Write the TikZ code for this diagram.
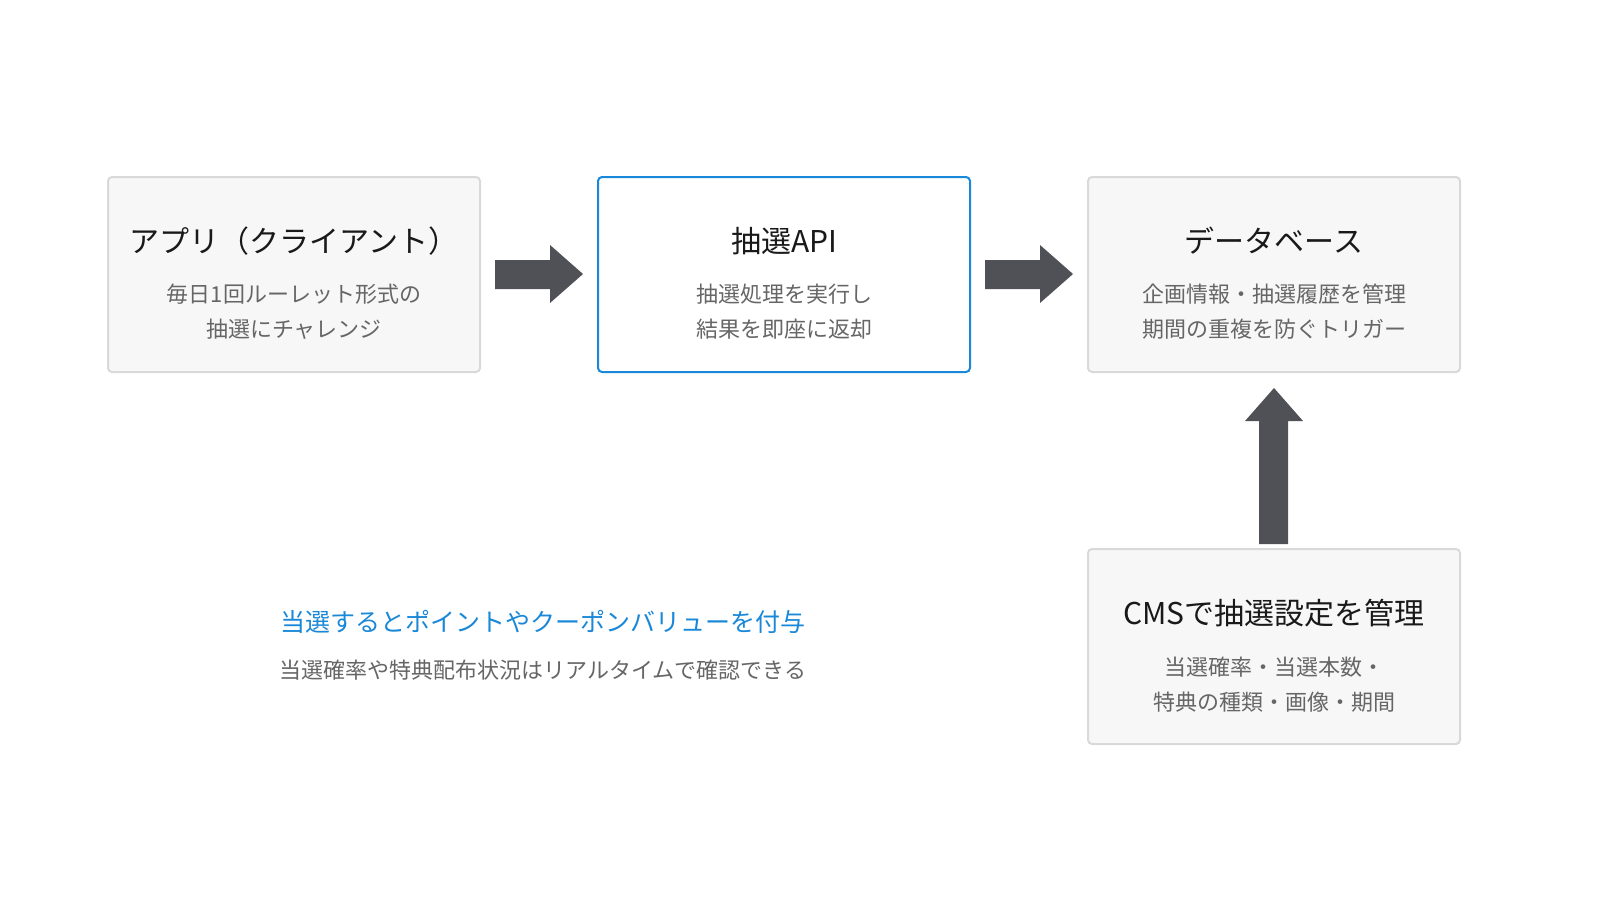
\documentclass[tikz,border=0pt]{standalone}
\usepackage{fontspec}
\setmainfont{Noto Sans CJK JP}
\begin{document}
\begin{tikzpicture}[x=0.5pt,y=-0.5pt,
  box/.style={draw=black!15,fill=black!3,line width=1pt,rounded corners=2pt},
  title/.style={font=\fontsize{15}{18}\selectfont,text=black!90},
  sub/.style={font=\fontsize{11}{17.5}\selectfont,text=black!60,align=center},
  arr/.style={fill=arrowc,draw=none}]
\definecolor{arrowc}{HTML}{505057}
\definecolor{blu}{HTML}{1A88D8}
\useasboundingbox (0,0) rectangle (1600,900);
\fill[white] (0,0) rectangle (1600,900);
\draw[box] (108,177) rectangle (480,372);
\draw[box,draw=blu,fill=white] (598,177) rectangle (970,372);
\draw[box] (1088,177) rectangle (1460,372);
\draw[box] (1088,549) rectangle (1460,744);
\node[title] (t1) at (294,241) {アプリ（クライアント）};
\node[sub] (s1) at (294,312) {毎日1回ルーレット形式の\\抽選にチャレンジ};
\node[title] (t2) at (784,241) {抽選API};
\node[sub] (s2) at (784,312) {抽選処理を実行し\\結果を即座に返却};
\node[title] (t3) at (1274,241) {データベース};
\node[sub] (s3) at (1274,312) {企画情報・抽選履歴を管理\\期間の重複を防ぐトリガー};
\node[title] (t4) at (1274,613) {CMSで抽選設定を管理};
\node[sub] (s4) at (1274,685) {当選確率・当選本数・\\特典の種類・画像・期間};
\fill[arr] (495,260) -- (550,260) -- (550,245) -- (583,274) -- (550,303) -- (550,289) -- (495,289) -- cycle;
\fill[arr] (985,260) -- (1040,260) -- (1040,245) -- (1073,274) -- (1040,303) -- (1040,289) -- (985,289) -- cycle;
\fill[arr] (1259,544) -- (1259,421) -- (1245,421) -- (1274,388) -- (1303,421) -- (1288,421) -- (1288,544) -- cycle;
\node[font=\fontsize{12.5}{15}\selectfont,text=blu] (n1) at (543,622) {当選するとポイントやクーポンバリューを付与};
\node[sub] (n2) at (543,670) {当選確率や特典配布状況はリアルタイムで確認できる};
\end{tikzpicture}
\end{document}
